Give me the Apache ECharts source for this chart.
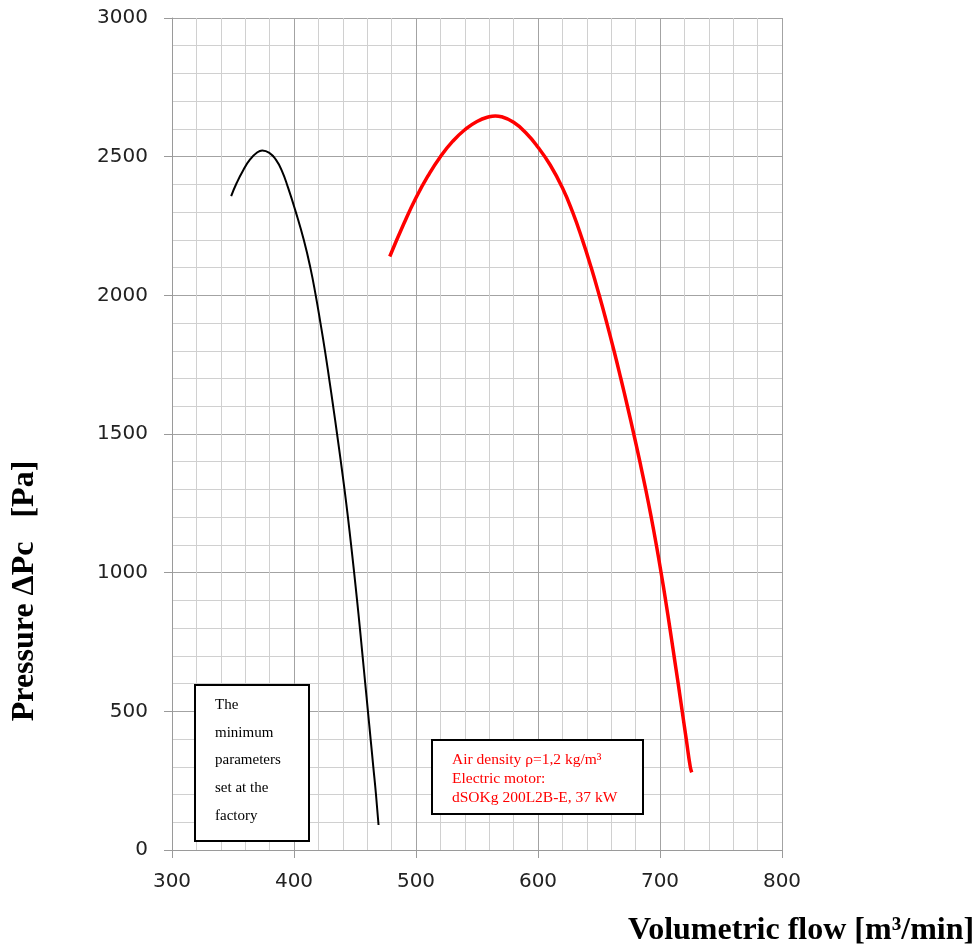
<!DOCTYPE html>
<html>
<head>
<meta charset="utf-8">
<script src="https://cdn.jsdelivr.net/npm/echarts@6/dist/echarts.min.js"></script>
<style>html,body{margin:0;padding:0;background:#fff}#c{width:979px;height:948px}</style>
</head>
<body>
<div id="c"></div>
<script>
// Data
const xTicks = [300, 400, 500, 600, 700, 800];
const yTicks = [0, 500, 1000, 1500, 2000, 2500, 3000];

const minFlow = [348.5, 353, 358.5, 364, 369.5, 374, 380, 385, 390, 395, 401.5, 408.0, 413.4, 417.8, 421.7, 425.4, 428.8, 432.1, 435.3, 438.4, 441.4, 444.2, 446.8, 449.3, 451.7, 454.0, 456.2, 458.4, 460.6, 462.8, 465.0, 467.2, 469.3];
const minPressure = [2358, 2405, 2452, 2490, 2514, 2522, 2513, 2490, 2450, 2390, 2300, 2200, 2100, 2000, 1900, 1800, 1700, 1600, 1500, 1400, 1300, 1200, 1100, 1000, 900, 800, 700, 600, 500, 400, 300, 200, 90];

const maxFlow = [478.5, 490, 500, 510, 520, 530, 540, 550, 560, 565, 570, 580, 590, 600, 610, 620, 628.4, 636.4, 643.6, 650.2, 656.4, 662.3, 667.9, 673.3, 678.5, 683.5, 688.3, 692.8, 697.0, 700.9, 704.6, 708.1, 711.5, 714.9, 718.2, 721.5, 724.8, 726.0];
const maxPressure = [2140, 2258, 2352, 2432, 2500, 2555, 2597, 2627, 2644, 2647, 2644, 2624, 2586, 2534, 2470, 2388, 2300, 2200, 2100, 2000, 1900, 1800, 1700, 1600, 1500, 1400, 1300, 1200, 1100, 1000, 900, 800, 700, 600, 500, 400, 300, 280];

const xTitle = 'Volumetric flow [m³/min]';
const yTitle = 'Pressure ΔPc   [Pa]';
const noteLeft = ['The', 'minimum', 'parameters', 'set at the', 'factory'];
const noteRight = ['Air density ρ=1,2 kg/m³', 'Electric motor:', 'dSOKg 200L2B-E, 37 kW'];

const zip = (a, b) => a.map((v, i) => [v, b[i]]);
const chart = echarts.init(document.getElementById('c'), null, {renderer: 'canvas'});

const axisCommon = {
  axisLine: {show: true, lineStyle: {color: '#9a9a9a', width: 1}},
  axisTick: {show: true, length: 8, lineStyle: {color: '#9a9a9a'}},
  splitLine: {show: true, lineStyle: {color: '#a3a3a3', width: 1}},
  minorTick: {show: false, splitNumber: 5},
  minorSplitLine: {show: true, lineStyle: {color: '#d0d0d0', width: 1}},
  axisLabel: {fontFamily: 'DejaVu Sans', fontSize: 20, color: '#222', formatter: v => String(v)}
};

chart.setOption({
  animation: false,
  grid: {left: 172, right: 197, top: 18, bottom: 98, containLabel: false},
  xAxis: Object.assign({}, axisCommon, {
    type: 'value', min: xTicks[0], max: xTicks[xTicks.length - 1], interval: 100,
    axisLabel: Object.assign({}, axisCommon.axisLabel, {margin: 22})
  }),
  yAxis: Object.assign({}, axisCommon, {
    type: 'value', min: yTicks[0], max: yTicks[yTicks.length - 1], interval: 500,
    axisLabel: Object.assign({}, axisCommon.axisLabel, {margin: 24})
  }),
  series: [
    {type: 'line', data: zip(minFlow, minPressure), smooth: 0.5, showSymbol: false,
     lineStyle: {color: '#000', width: 2}, z: 3},
    {type: 'line', data: zip(maxFlow, maxPressure), smooth: 0.5, showSymbol: false,
     lineStyle: {color: '#ff0000', width: 3.5}, z: 3}
  ],
  graphic: [
    {type: 'text', left: 628, top: 915,
     style: {text: xTitle, font: 'bold 32px "Liberation Serif"', fill: '#000'}},
    {type: 'text', x: 25, y: 591, rotation: Math.PI / 2,
     style: {text: yTitle, font: 'bold 32px "Liberation Serif"', fill: '#000', align: 'center', verticalAlign: 'middle'}},
    {type: 'rect', shape: {x: 195, y: 685, width: 114, height: 156}, z: 10,
     style: {fill: '#fff', stroke: '#000', lineWidth: 2}},
    {type: 'text', x: 215, y: 691, z: 11,
     style: {text: noteLeft.join('\n'), font: '15px "Liberation Serif"', lineHeight: 27.75, fill: '#000'}},
    {type: 'rect', shape: {x: 432, y: 740, width: 211, height: 74}, z: 10,
     style: {fill: '#fff', stroke: '#000', lineWidth: 2}},
    {type: 'text', x: 452, y: 750.6, z: 11,
     style: {text: noteRight.join('\n'), font: '15.5px "Liberation Serif"', lineHeight: 18.8, fill: '#ff0000'}}
  ]
});
</script>
</body>
</html>
